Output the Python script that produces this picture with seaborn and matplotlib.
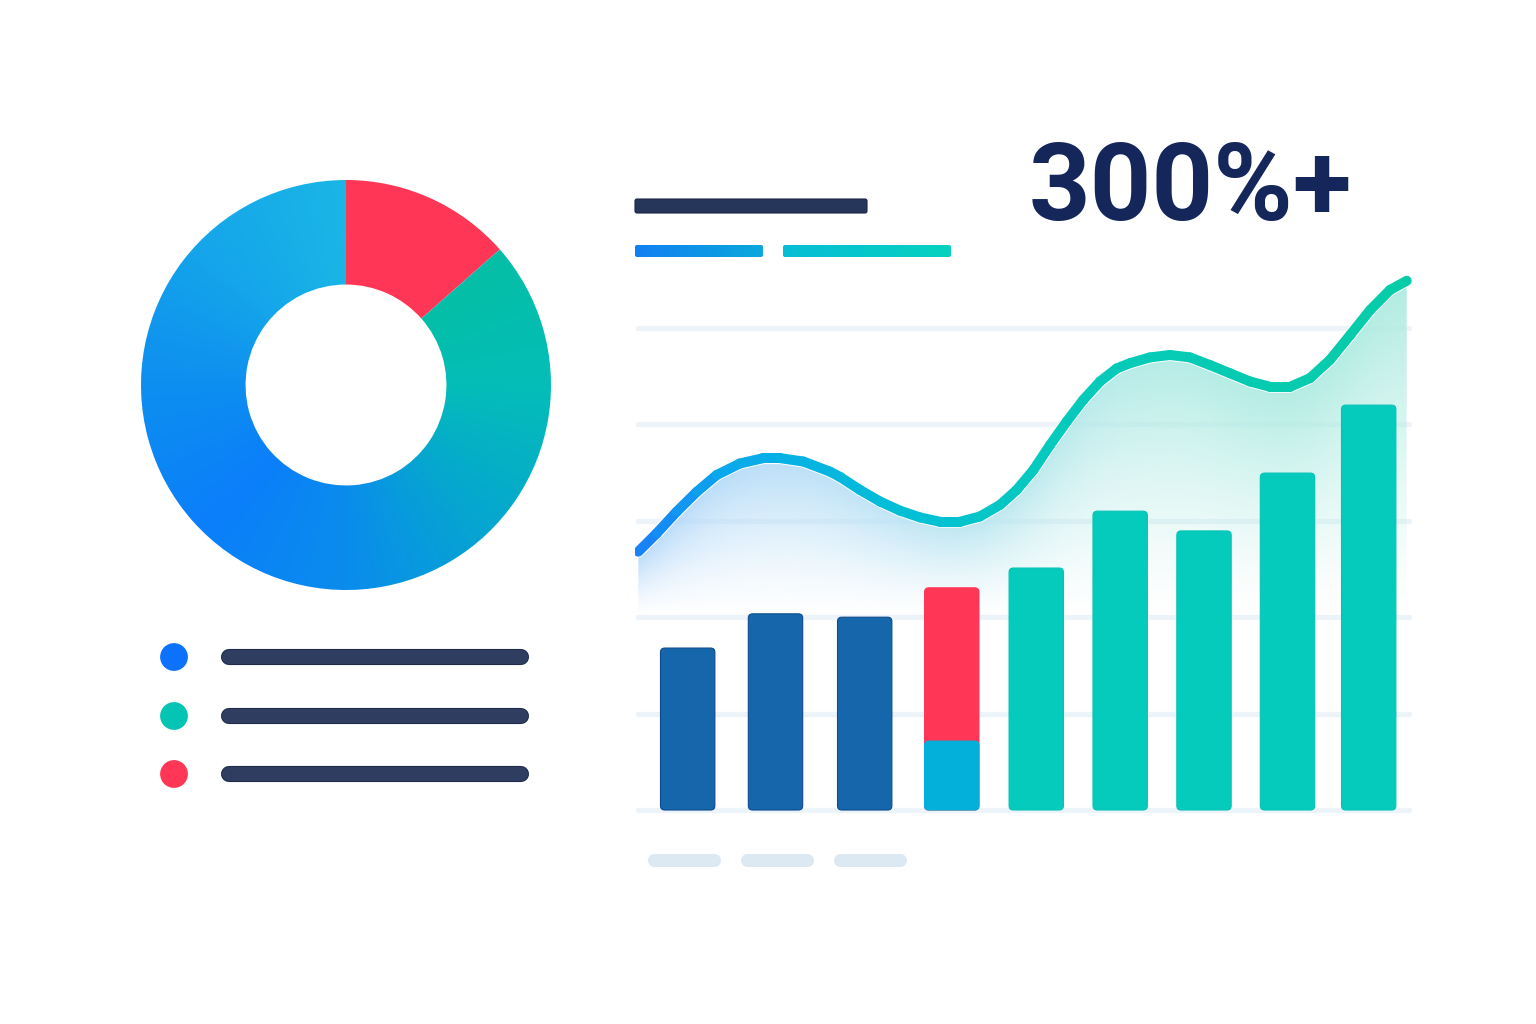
import numpy as np
import pandas as pd
import matplotlib
matplotlib.use("Agg")
import matplotlib.pyplot as plt
import seaborn as sns
from matplotlib.colors import LinearSegmentedColormap
from matplotlib.patches import FancyBboxPatch
from matplotlib.collections import LineCollection
from matplotlib.path import Path

# --- data ---
donut_labels = ["Blue", "Teal", "Red"]
donut_shares = [58.5, 28.0, 13.5]
donut_colors = ["#0d72fb", "#05c4b4", "#ff3655"]

bar_pos = [0, 1.032, 2.080, 3.103, 4.096, 5.082, 6.067, 7.048, 8.002]
bar_totals = [33.6, 40.7, 40.0, 46.1, 50.2, 62.0, 57.9, 69.9, 84.0]
bar_base = [0, 0, 0, 14.3, 0, 0, 0, 0, 0]
bar_group = ["dark", "dark", "dark", "split", "teal", "teal", "teal", "teal", "teal"]

line_x = [-0.580, -0.364, -0.129, 0.106, 0.341, 0.615, 0.888, 1.085, 1.358, 1.672,
          1.790, 2.025, 2.260, 2.495, 2.730, 2.965, 3.200, 3.435, 3.670, 3.866,
          4.061, 4.257, 4.454, 4.649, 4.845, 5.041, 5.197, 5.432, 5.667, 5.902,
          6.138, 6.373, 6.608, 6.843, 7.078, 7.313, 7.548, 7.783, 8.018, 8.253, 8.449]
line_y = [53.6, 57.4, 61.9, 66.0, 69.5, 71.9, 73.0, 73.0, 72.3, 70.2,
          69.1, 66.4, 64.0, 62.1, 60.7, 59.8, 59.8, 60.9, 63.3, 66.4,
          70.5, 75.7, 80.6, 85.1, 88.9, 91.6, 92.7, 93.9, 94.4, 93.9,
          92.3, 90.6, 88.9, 87.8, 87.8, 89.6, 93.4, 98.5, 103.7, 107.9, 109.8]

grid_levels = [0, 20, 40, 60, 80, 100]
headline = "300%+"

W, H = 1536, 1024
sns.set_theme(style="white")
plt.rcParams["font.family"] = ["Roboto", "DejaVu Sans"]

fig = plt.figure(figsize=(W / 100, H / 100), dpi=100, facecolor="white")


def px_axes(l, t, r, b, **kw):
    return fig.add_axes([l / W, 1 - b / H, (r - l) / W, (b - t) / H], **kw)


def grad_image(ax, extent, stops, clip, zorder):
    cmap = LinearSegmentedColormap.from_list("g", stops)
    g = np.linspace(0, 1, 256)[None, :]
    im = ax.imshow(g, extent=extent, cmap=cmap, aspect="auto",
                   origin="lower", zorder=zorder, interpolation="bilinear")
    im.set_clip_path(clip)
    return im


# --- overlay for headline, header bars, legend rows, footer pills ---
deco = fig.add_axes([0, 0, 1, 1])
deco.set_xlim(0, W)
deco.set_ylim(H, 0)
deco.axis("off")

dark_bar = FancyBboxPatch((635, 199), 232, 14, boxstyle="round,pad=0,rounding_size=2",
                          fc="#26355a", ec="#1a2646", lw=0.8)
deco.add_patch(dark_bar)
for (x0, x1), stops in [((635, 763), ["#1280f2", "#0aa8dc"]),
                        ((783, 951), ["#08bdd6", "#06d2bf"])]:
    p = FancyBboxPatch((x0, 245), x1 - x0, 12, boxstyle="round,pad=0,rounding_size=2",
                       fc="none", ec="none")
    deco.add_patch(p)
    grad_image(deco, (x0, x1, 257, 245), stops, p, 2)

deco.text(1029, 220, headline, fontsize=77.5, fontweight="bold", color="#15265a",
          ha="left", va="baseline")

legend_y = [657, 716, 774]
sns.scatterplot(x=[174] * 3, y=legend_y, hue=donut_labels, palette=donut_colors,
                s=400, edgecolor="none", legend=False, ax=deco, zorder=3)
for y in legend_y:
    deco.plot([229, 521], [y, y], color="#1e2a48", lw=11.6, solid_capstyle="round")
    deco.plot([229, 521], [y, y], color="#2f3e60", lw=10.2, solid_capstyle="round")

for x0 in [648, 741, 834]:
    deco.plot([x0 + 6, x0 + 66], [860, 860], color="#dce8f2", lw=9.4, solid_capstyle="round")

# --- donut ---
dax = px_axes(136, 175, 556, 595)
wedges, _ = dax.pie(donut_shares[::-1], colors=donut_colors[::-1], startangle=90,
                    counterclock=False, radius=1, wedgeprops=dict(width=0.51, linewidth=0))
lim = 210 / 205
dax.set_xlim(-lim, lim)
dax.set_ylim(-lim, lim)
dax.set_aspect("equal")
dax.axis("off")

gx, gy = np.meshgrid(np.linspace(-1, 1, 600), np.linspace(-1, 1, 600))
ang = np.degrees(np.arctan2(gy, gx))
s = np.clip(((41.5 - ang) % 360) / 311.5, 0, 1)
conic = LinearSegmentedColormap.from_list("conic", [
    (0.0, "#05bfa6"), (0.133, "#04bdb8"), (0.278, "#06a6d0"), (0.422, "#0a8cec"),
    (0.566, "#0b7ffa"), (0.711, "#0d8ef0"), (0.855, "#15a6ea"), (1.0, "#1ab6e6")])
for w in wedges[1:]:
    w.set_facecolor("none")
ring = Path.make_compound_path(*[w.get_path() for w in wedges[1:]])
im = dax.imshow(conic(s), extent=(-1, 1, -1, 1), origin="lower", zorder=2,
                interpolation="bilinear")
im.set_clip_path(ring, transform=dax.transData)

# --- bar + line chart ---
XL = (-0.619, 8.511)
YL = (-2, 112)
ax = px_axes(635, 270.16, 1412, 819.64)

for lv in grid_levels:
    ax.axhline(lv, xmin=0.004, xmax=0.996, color="#ecf3f9", lw=3.8,
               solid_capstyle="round", zorder=1)

bars = pd.DataFrame({"pos": bar_pos, "total": bar_totals,
                     "base": bar_base, "group": bar_group})
top_pal = {"dark": "#1566ab", "split": "#ff3655", "teal": "#05cbbc"}
sns.barplot(data=bars, x="pos", y="total", hue="group", palette=top_pal,
            native_scale=True, dodge=False, saturation=1, legend=False, ax=ax, zorder=3)
sns.barplot(data=bars, x="pos", y="base", color="#03b0da", native_scale=True,
            saturation=1, ax=ax, zorder=3.5)

edge_for = {"#1566ab": "#0e4a8e", "#05cbbc": "#05c4b6"}
bar_w = 0.639
for p in list(ax.patches):
    h = p.get_height()
    if h <= 0:
        p.remove()
        continue
    fc = matplotlib.colors.to_hex(p.get_facecolor())
    cx = p.get_x() + p.get_width() / 2
    rp = FancyBboxPatch((cx - bar_w / 2, p.get_y()), bar_w, h,
                        boxstyle="round,pad=0,rounding_size=0.05", mutation_aspect=17.6,
                        fc=fc, ec=edge_for.get(fc, fc), lw=0.8, zorder=p.get_zorder())
    p.remove()
    ax.add_patch(rp)

ax.set_xlim(*XL)
ax.set_ylim(*YL)
ax.axis("off")

# gradient area under the line
fill = ax.fill_between(line_x, line_y, 0, facecolor="none", edgecolor="none")
ny, nx = 300, 400
xc = np.linspace(line_x[0], line_x[-1], nx)
yy = np.linspace(30, 112, ny)[:, None]
ytop = np.interp(xc, line_x, line_y)[None, :]
hcm = LinearSegmentedColormap.from_list("h", ["#b4d8fa", "#bde4f6", "#b4ece6", "#b0ece2"])
rgba = hcm(np.linspace(0, 1, nx))[None, :, :].repeat(ny, axis=0)
rgba[..., 3] = np.clip((yy - 40) / (ytop - 40), 0, 1) ** 1.3
im = ax.imshow(rgba, extent=(line_x[0], line_x[-1], 30, 112), origin="lower",
               aspect="auto", zorder=2, interpolation="bilinear")
im.set_clip_path(fill.get_paths()[0], transform=ax.transData)

# gradient line
pts = np.column_stack([line_x, line_y])
segs = np.stack([pts[:-1], pts[1:]], axis=1)
lcm = LinearSegmentedColormap.from_list("l", [
    (0.0, "#1a7ff7"), (0.11, "#0aa8ec"), (0.34, "#03bed8"),
    (0.53, "#05cabd"), (1.0, "#07cca8")])
mids = (np.array(line_x[:-1]) + np.array(line_x[1:])) / 2
tt = (mids - line_x[0]) / (line_x[-1] - line_x[0])
ax.plot(line_x, line_y, color="white", lw=8.6, solid_capstyle="round",
        solid_joinstyle="round", zorder=4)
lc = LineCollection(segs, colors=lcm(tt), linewidths=7.2, capstyle="round",
                    joinstyle="round", zorder=5)
ax.add_collection(lc)

fig.savefig("out.png", dpi=100, facecolor="white")
